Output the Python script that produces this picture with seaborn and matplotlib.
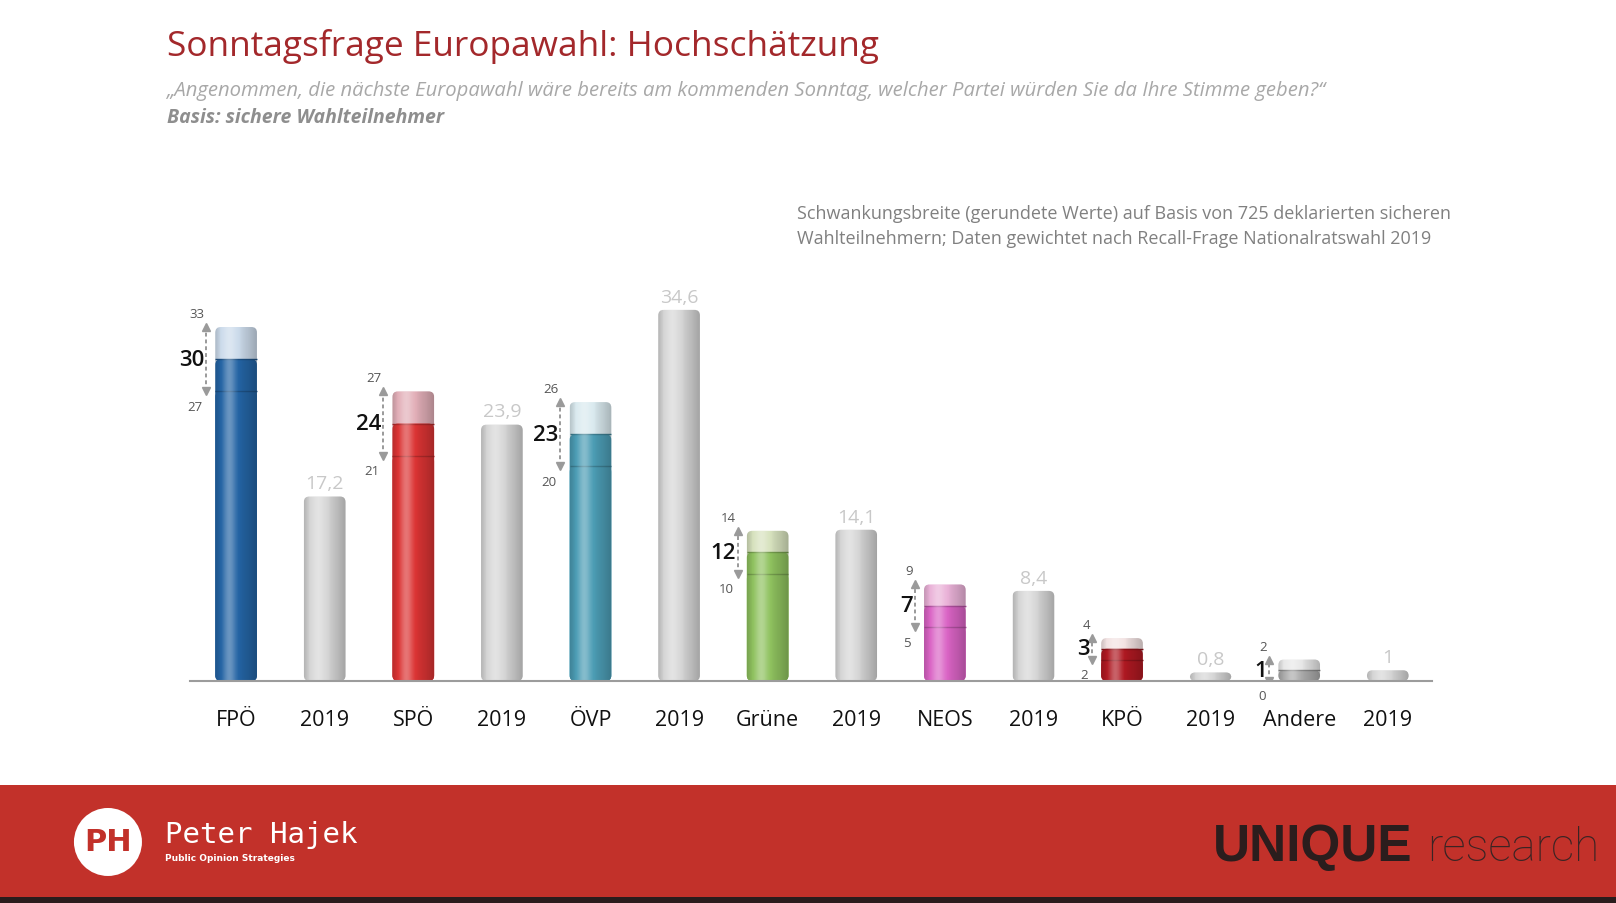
import numpy as np
import matplotlib
matplotlib.use('Agg')
import matplotlib.pyplot as plt
import pandas as pd
import seaborn as sns
from matplotlib.patches import Rectangle, Ellipse, FancyBboxPatch
from matplotlib.colors import to_rgb

# Hochschätzung: estimate with lower/upper bound, plus 2019 result per party
parties = ['FPÖ', 'SPÖ', 'ÖVP', 'Grüne', 'NEOS', 'KPÖ', 'Andere']
estimate = [30, 24, 23, 12, 7, 3, 1]
low = [27, 21, 20, 10, 5, 2, 0]
high = [33, 27, 26, 14, 9, 4, 2]
result_2019 = [17.2, 23.9, 34.6, 14.1, 8.4, 0.8, 1.0]

main_colors = ['#0f64b9', '#f71818', '#3ba7c6', '#8fd24e', '#ee50d2', '#c8000c', '#ababab']
light_colors = ['#c7dbf0', '#eaa7b2', '#d6ecf3', '#d9e8b8', '#f3a9dc', '#f6e0e0', '#e8e8e8']
grey_2019 = '#d6d6d6'

# interleave party / 2019 bars
rows = []
for p, e, lo, hi, r, c, lc in zip(parties, estimate, low, high, result_2019, main_colors, light_colors):
    rows.append(dict(key=p, label=p, top=hi, mid=e, base=lo, c_top=lc, c_main=c, is_party=True))
    rows.append(dict(key=p + ' 2019', label='2019', top=r, mid=0, base=0, c_top=grey_2019, c_main=grey_2019, is_party=False))
df = pd.DataFrame(rows)
keys = df['key'].tolist()

sns.set_style('white')
plt.rcParams['font.family'] = ['Open Sans', 'DejaVu Sans']

fig = plt.figure(figsize=(16.16, 9.04), dpi=100)
ax = fig.add_axes([0.1176, 0.2456, 0.7686, 0.4746])

bw = 0.47
for col, pal in [('top', 'c_top'), ('mid', 'c_main'), ('base', 'c_main')]:
    sns.barplot(data=df, x='key', y=col, hue='key', order=keys, hue_order=keys,
                palette=dict(zip(df['key'], df[pal])), width=bw, legend=False,
                linewidth=0, ax=ax)

ax.set_xlim(-0.52, 13.5)
ax.set_ylim(0, 40)

# swap the flat rectangles for rounded segments
ax_w = 0.7686 * 1616
ax_h = 0.4746 * 904
asp = (40 / ax_h) / (14.02 / ax_w)
rad = 5.5 / (ax_w / 14.02)
rects = list(ax.patches)
n = len(keys)
rounded = []
for k, p in enumerate(rects):
    p.set_visible(False)
    h = p.get_height()
    if h <= 0:
        rounded.append(None)
        continue
    fc = p.get_facecolor()
    fb = FancyBboxPatch((p.get_x(), 0), p.get_width(), h,
                        boxstyle=f'round,pad=0,rounding_size={rad}',
                        mutation_aspect=asp, facecolor=fc, edgecolor='none',
                        zorder=1 + k // n)
    ax.add_patch(fb)
    rounded.append(fb)

# faint grooves between segments
for p in rects[n:]:
    h = p.get_height()
    if h > 0:
        c = np.array(to_rgb(p.get_facecolor())) * 0.8
        x0 = p.get_x()
        ax.plot([x0, x0 + p.get_width()], [h, h], color=c, lw=1.0, zorder=3.5,
                solid_capstyle='butt')

# cylinder shading across each full bar
xs = np.linspace(0, 1, 64)
v = np.where(xs < 0.36, -0.16 * ((0.36 - xs) / 0.36) ** 2,
             -0.24 * ((xs - 0.36) / 0.64) ** 1.6)
v = v + 0.32 * np.exp(-((xs - 0.34) / 0.16) ** 2)
grad = np.zeros((2, 64, 4))
grad[..., :3] = np.where(v[None, :, None] > 0, 1.0, 0.0)
grad[..., 3] = np.abs(v)[None, :]
for k in range(n):
    fb = rounded[k]
    if fb is None:
        continue
    x0, w, h = rects[k].get_x(), rects[k].get_width(), rects[k].get_height()
    im = ax.imshow(grad, extent=(x0, x0 + w, 0, h), aspect='auto', zorder=4,
                   interpolation='bilinear')
    im.set_clip_path(fb)

ax.set_xlim(-0.52, 13.5)
ax.set_ylim(0, 40)

# labels
for i, row in df.iterrows():
    if row['is_party']:
        xa = i - 0.34
        ax.vlines(xa, row['base'], row['top'], colors='#9a9a9a', linestyles=(0, (2, 1.5)), lw=1.4, zorder=5)
        ax.plot([xa], [row['top']], marker='^', ms=6, color='#9a9a9a', zorder=5)
        ax.plot([xa], [row['base']], marker='v', ms=6, color='#9a9a9a', zorder=5)
        ax.text(i - 0.36, row['mid'], f"{row['mid']:g}", ha='right', va='center',
                fontsize=16, color='#111111', weight=600, zorder=6)
        ax.annotate(f"{row['top']:g}", (i - 0.36, row['top']), xytext=(0, 5),
                    textcoords='offset points', ha='right', va='bottom',
                    fontsize=9.5, color='#555555')
        ax.annotate(f"{row['base']:g}", (i - 0.38, row['base']), xytext=(0, -6),
                    textcoords='offset points', ha='right', va='top',
                    fontsize=9.5, color='#555555')
    else:
        txt = f"{row['top']:g}".replace('.', ',')
        ax.annotate(txt, (i, row['top']), xytext=(0, 3), textcoords='offset points',
                    ha='center', va='bottom', fontsize=14, color='#c8c8c8')

ax.set_xticks(range(n))
ax.set_xticklabels(df['label'], fontsize=15.5, color='#111111')
ax.tick_params(axis='x', length=0, pad=20)
ax.set_yticks([])
ax.set_xlabel('')
ax.set_ylabel('')
for s in ['top', 'right', 'left']:
    ax.spines[s].set_visible(False)
ax.spines['bottom'].set_color('#9c9c9c')
ax.spines['bottom'].set_linewidth(1.5)
ax.spines['bottom'].set_zorder(6)

# header texts
fig.text(0.1033, 0.949, 'Sonntagsfrage Europawahl: Hochschätzung', fontsize=25.4,
         color='#a3282b', va='center')
fig.text(0.1033, 0.8993, '„Angenommen, die nächste Europawahl wäre bereits am kommenden Sonntag, '
         'welcher Partei würden Sie da Ihre Stimme geben?“', fontsize=14.6, style='italic',
         color='#a8a8a8', va='center')
fig.text(0.1033, 0.8695, 'Basis: sichere Wahlteilnehmer', fontsize=14, style='italic',
         weight='bold', color='#8e8e8e', va='center')
fig.text(0.4932, 0.7633, 'Schwankungsbreite (gerundete Werte) auf Basis von 725 deklarierten sicheren',
         fontsize=13, color='#808080', va='center')
fig.text(0.4932, 0.7356, 'Wahlteilnehmern; Daten gewichtet nach Recall-Frage Nationalratswahl 2019',
         fontsize=13, color='#808080', va='center')

# footer band
fig.add_artist(Rectangle((0, 0.0066), 1, 0.1239, transform=fig.transFigure,
                         facecolor='#c2312a', edgecolor='none', zorder=0))
fig.add_artist(Rectangle((0, 0), 1, 0.0066, transform=fig.transFigure,
                         facecolor='#2a1c1c', edgecolor='none', zorder=0))
fig.add_artist(Ellipse((0.0668, 0.0675), 68 / 1616, 68 / 904, transform=fig.transFigure,
                       facecolor='white', edgecolor='none', zorder=1))
fig.text(0.0668, 0.0675, 'PH', fontsize=22, weight='bold', color='#c2312a',
         ha='center', va='center', family='DejaVu Sans')
fig.text(0.102, 0.0763, 'Peter Hajek', fontsize=21, color='white', va='center',
         family='DejaVu Sans Mono')
fig.text(0.102, 0.0498, 'Public Opinion Strategies', fontsize=6.5, color='white',
         va='center', weight='bold', family='DejaVu Sans')
fig.text(0.7506, 0.0476, 'UNIQUE', fontsize=37, weight='bold', color='#2b1d1d',
         va='baseline', family='Liberation Sans')
fig.text(0.883, 0.0476, 'research', fontsize=33, color='#3a2424',
         va='baseline', family='Roboto', weight='light')

fig.savefig('out.png', dpi=100)
